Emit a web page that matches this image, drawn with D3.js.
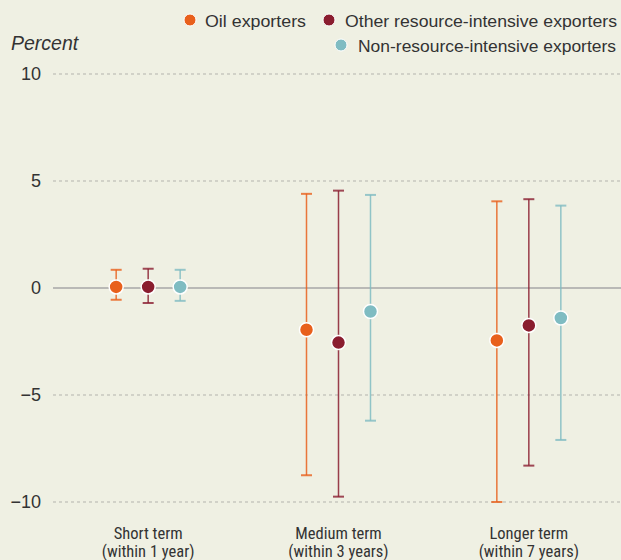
<!DOCTYPE html>
<html><head><meta charset="utf-8">
<script src="https://cdn.jsdelivr.net/npm/d3@7"></script>
<style>
html,body{margin:0;padding:0;background:#eff0e3;}
svg{display:block;}
</style></head>
<body>
<script>
const categories = ["Short term|(within 1 year)", "Medium term|(within 3 years)", "Longer term|(within 7 years)"];
const seriesNames = ["Oil exporters", "Other resource-intensive exporters", "Non-resource-intensive exporters"];
const seriesColors = ["#e8601c", "#8a1d2f", "#7fbcc2"];
const oilMid = [0.05, -1.95, -2.45];
const oilLow = [-0.55, -8.75, -10.0];
const oilHigh = [0.85, 4.4, 4.05];
const otherMid = [0.05, -2.55, -1.75];
const otherLow = [-0.7, -9.75, -8.3];
const otherHigh = [0.9, 4.55, 4.15];
const nonMid = [0.05, -1.1, -1.4];
const nonLow = [-0.6, -6.2, -7.1];
const nonHigh = [0.85, 4.35, 3.85];
const yTicks = [10, 5, 0, -5, -10];

const W = 621, H = 560;
const svg = d3.select("body").append("svg").attr("width", W).attr("height", H);

const y = d3.scaleLinear().domain([-10, 10]).range([502, 74]);
const x = d3.scaleBand().domain(categories).range([53, 624]).padding(0);
const sub = d3.scaleBand().domain(seriesNames).range([-48, 48]).padding(0);

// grid
svg.append("g").selectAll("line").data(yTicks).join("line")
  .attr("x1", 53).attr("x2", W)
  .attr("y1", d => y(d)).attr("y2", d => y(d))
  .attr("stroke", d => d === 0 ? "#a7a7a7" : "#b3b3ad")
  .attr("stroke-width", d => d === 0 ? 1.3 : 1)
  .attr("stroke-dasharray", d => d === 0 ? null : "3,3");

svg.append("g").selectAll("text").data(yTicks).join("text")
  .attr("x", 41).attr("y", d => y(d) + 6)
  .attr("text-anchor", "end")
  .attr("font-family", "'Liberation Sans', Arial, sans-serif")
  .attr("font-size", 18).attr("fill", "#333")
  .text(d => d < 0 ? "\u2212" + Math.abs(d) : d);

svg.append("text").attr("x", 11).attr("y", 50)
  .attr("font-family", "'Liberation Sans', Arial, sans-serif")
  .attr("font-style", "italic").attr("font-size", 19.5).attr("fill", "#333")
  .text("Percent");

// category labels
const catG = svg.append("g").selectAll("text").data(categories).join("text")
  .attr("x", d => x(d) + x.bandwidth() / 2)
  .attr("text-anchor", "middle")
  .attr("font-family", "'Liberation Sans Narrow', 'Roboto Condensed', 'Liberation Sans', sans-serif")
  .attr("font-size", 16.5).attr("fill", "#333");
catG.append("tspan").attr("x", d => x(d) + x.bandwidth() / 2).attr("y", 539).text(d => d.split("|")[0]);
catG.append("tspan").attr("x", d => x(d) + x.bandwidth() / 2).attr("y", 557).text(d => d.split("|")[1]);

const series = [
  {name: seriesNames[0], color: seriesColors[0], mid: oilMid, low: oilLow, high: oilHigh},
  {name: seriesNames[1], color: seriesColors[1], mid: otherMid, low: otherLow, high: otherHigh},
  {name: seriesNames[2], color: seriesColors[2], mid: nonMid, low: nonLow, high: nonHigh}
];

series.forEach(s => {
  const g = svg.append("g");
  const pts = categories.map((c, i) => ({c, mid: s.mid[i], low: s.low[i], high: s.high[i],
    cx: x(c) + x.bandwidth() / 2 + sub(s.name) + sub.bandwidth() / 2}));
  g.selectAll("line.v").data(pts).join("line").attr("class", "v")
    .attr("x1", d => d.cx).attr("x2", d => d.cx)
    .attr("y1", d => y(d.high)).attr("y2", d => y(d.low))
    .attr("stroke", s.color).attr("stroke-width", 1.5).attr("stroke-opacity", 0.85);
  ["high", "low"].forEach(k => {
    g.selectAll("line." + k).data(pts).join("line").attr("class", k)
      .attr("x1", d => d.cx - 5.5).attr("x2", d => d.cx + 5.5)
      .attr("y1", d => y(d[k])).attr("y2", d => y(d[k]))
      .attr("stroke", s.color).attr("stroke-width", 2).attr("stroke-opacity", 0.8);
  });
  g.selectAll("circle").data(pts).join("circle")
    .attr("cx", d => d.cx).attr("cy", d => y(d.mid)).attr("r", 7)
    .attr("fill", s.color).attr("stroke", "#fff").attr("stroke-width", 1.5);
});

// legend
const legendFont = "'Liberation Sans', Arial, sans-serif";
const leg = [
  {i: 0, cx: 190, cy: 20, tx: 205, w: 101},
  {i: 1, cx: 329, cy: 20, tx: 345, w: 272},
  {i: 2, cx: 341, cy: 45, tx: 358, w: 258}
];
leg.forEach(l => {
  svg.append("circle").attr("cx", l.cx).attr("cy", l.cy).attr("r", 6)
    .attr("fill", seriesColors[l.i]).attr("stroke", "#fff").attr("stroke-width", 1);
  svg.append("text").attr("x", l.tx).attr("y", l.cy + 6.5)
    .attr("font-family", legendFont).attr("font-size", 17).attr("fill", "#333")
    .attr("textLength", l.w).attr("lengthAdjust", "spacingAndGlyphs")
    .text(seriesNames[l.i]);
});
</script>
</body></html>
